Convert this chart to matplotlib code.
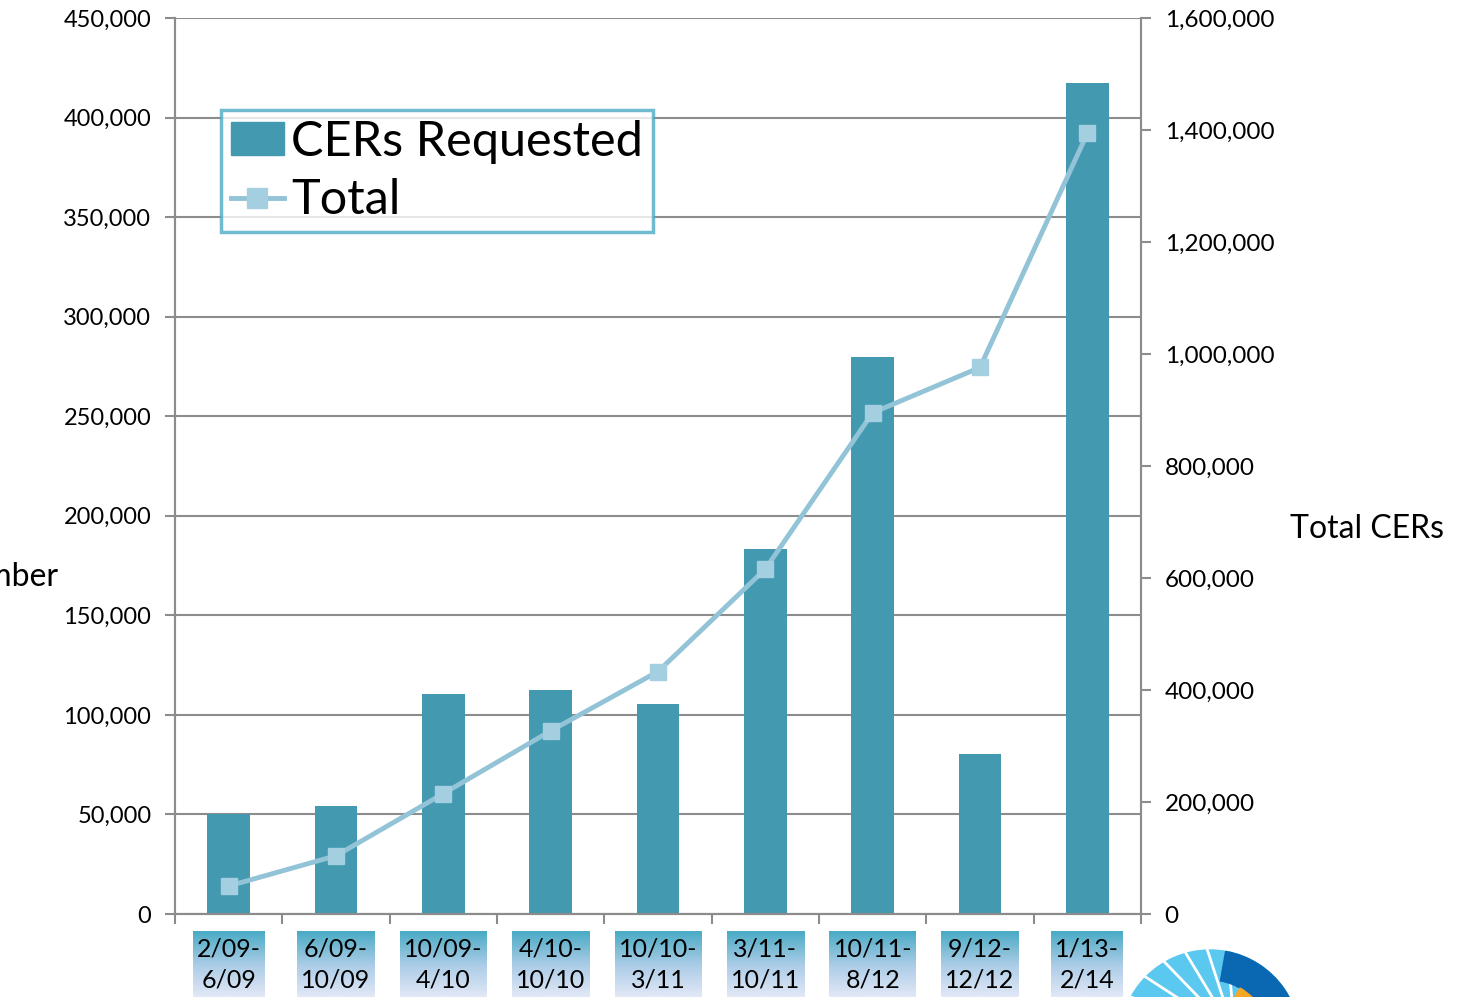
import numpy as np
import matplotlib
matplotlib.use("Agg")
import matplotlib.pyplot as plt
from matplotlib.colors import LinearSegmentedColormap
from matplotlib.patches import Patch, Wedge, Circle
from matplotlib.lines import Line2D
from matplotlib.ticker import FuncFormatter

plt.rcParams['font.family'] = ['Lato', 'DejaVu Sans']

# data
periods = ["2/09-\n6/09", "6/09-\n10/09", "10/09-\n4/10", "4/10-\n10/10", "10/10-\n3/11",
           "3/11-\n10/11", "10/11-\n8/12", "9/12-\n12/12", "1/13-\n2/14"]
requested = [50000, 54000, 110500, 112500, 105500, 183500, 279500, 80500, 417500]
total = [50000, 104000, 215000, 327000, 433000, 616000, 895000, 976000, 1394000]

bar_color = "#4399B0"
line_color = "#92C3D7"
grid_color = "#8C8C8C"

W, H = 1460, 997
fig = plt.figure(figsize=(W / 100, H / 100), dpi=100)

# pixel-coordinate overlay for label backgrounds and the logo
over = fig.add_axes([0, 0, 1, 1], zorder=-1)
over.set_xlim(0, W)
over.set_ylim(H, 0)
over.axis("off")

ax = fig.add_axes([175 / W, 83 / H, 966 / W, 896 / H])
ax.patch.set_alpha(0)
x = np.arange(len(periods))
ax.bar(x, requested, width=0.4, color=bar_color, zorder=2)
ax.set_xlim(-0.5, len(periods) - 0.5)
ax.set_ylim(0, 450000)
ax.set_yticks(np.arange(0, 450001, 50000))
ax.yaxis.set_major_formatter(FuncFormatter(lambda v, p: f"{int(v):,}"))
ax.grid(axis="y", color=grid_color, lw=1.5, zorder=0)
ax.set_xticks(x)
ax.set_xticklabels(periods, fontsize=18, linespacing=1.4)
ax.set_xticks(np.arange(-0.5, len(periods)), minor=True)
ax.tick_params(axis="x", which="major", length=0, pad=17)
ax.tick_params(axis="x", which="minor", length=7, width=1.5, color=grid_color, direction="out")
ax.tick_params(axis="y", length=7, width=1.5, color=grid_color, labelsize=17, pad=10)
for s in ["left", "bottom", "right"]:
    ax.spines[s].set_color(grid_color)
    ax.spines[s].set_linewidth(1.5)
ax.spines["top"].set_visible(False)

ax2 = ax.twinx()
ax2.plot(x, total, color=line_color, lw=3.5, marker="s", markersize=12,
         markerfacecolor="#A4CFE0", markeredgecolor="#A4CFE0", zorder=3)
ax2.set_ylim(0, 1600000)
ax2.set_yticks(np.arange(0, 1600001, 200000))
ax2.yaxis.set_major_formatter(FuncFormatter(lambda v, p: f"{int(v):,}"))
ax2.tick_params(axis="y", length=7, width=1.5, color=grid_color, labelsize=17.5, pad=10)
for s in ["left", "bottom", "right"]:
    ax2.spines[s].set_color(grid_color)
    ax2.spines[s].set_linewidth(1.5)
ax2.spines["top"].set_visible(False)

fig.text(1290 / W, 1 - 529 / H, "Total CERs", fontsize=23, ha="left", va="center")
# left axis title is cut off by the slide edge in the original
fig.text(58 / W, 1 - 577 / H, "Number", fontsize=23, ha="right", va="center")

handles = [Patch(facecolor=bar_color, edgecolor=bar_color),
           Line2D([], [], color=line_color, lw=3.5, marker="s", markersize=14,
                  markerfacecolor="#A4CFE0", markeredgecolor="#A4CFE0")]
leg = ax2.legend(handles, ["CERs Requested", "Total"], loc="upper left",
                 bbox_to_anchor=(221 / W, 1 - 110 / H), bbox_transform=fig.transFigure,
                 fontsize=35, frameon=True, fancybox=False, borderaxespad=0,
                 handlelength=1.1, handleheight=0.65, handletextpad=0.15,
                 borderpad=0.2, labelspacing=0.3)
leg.get_frame().set_edgecolor("#4BACC6")
leg.get_frame().set_linewidth(2.5)
leg.set_zorder(10)

# gradient backgrounds behind the category labels
grad = LinearSegmentedColormap.from_list("lbl", ["#4AABC4", "#A9CBE6", "#E2E8F6"])
fig.canvas.draw()
for lbl in ax.get_xticklabels():
    bb = lbl.get_window_extent()
    over.imshow(np.linspace(0, 1, 64).reshape(-1, 1), cmap=grad, aspect="auto",
                extent=(bb.x0 - 4, bb.x1 + 4, H, 931), origin="upper", zorder=1)
over.set_xlim(0, W)
over.set_ylim(H, 0)

# partial logo in the bottom right corner
cx, cy, r = 1210, 1040, 90
over.add_patch(Circle((cx, cy), r, color="#5BC8F0", zorder=2))
for a in np.linspace(200, 265, 6):
    t = np.radians(a)
    over.plot([cx + 25, cx + 25 + 110 * np.cos(t)], [cy - 5, cy - 5 + 110 * np.sin(t)],
              color="white", lw=2, zorder=3)
over.add_patch(Wedge((cx, cy), r, -80, 10, width=30, color="#0A67B1", zorder=4))
over.add_patch(Wedge((cx, cy), r - 30, -60, 10, width=25, color="#F5A623", zorder=4))

fig.savefig("out.png", dpi=100)
